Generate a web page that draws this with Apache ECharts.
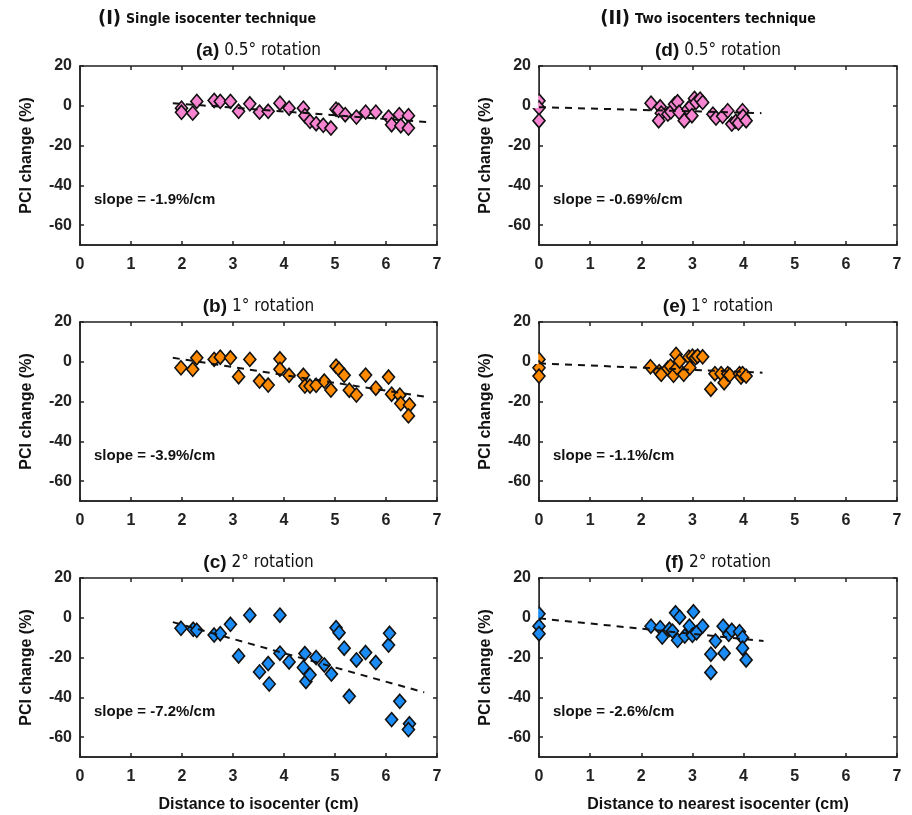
<!DOCTYPE html>
<html lang="en">
<head>
    <meta charset="utf-8">
    <title>PCI change</title>
    <script src="https://cdn.jsdelivr.net/npm/echarts@6/dist/echarts.min.js"></script>
</head>
<body style="margin:0;background:#fff">
    <div id="main" style="width: 912px;height:815px;"></div>
    <script>
    // data: [distance (cm), PCI change (%)]
    var ptsA = [[1.99,-1.2],[1.99,-3.3],[2.21,-3.7],[2.29,2.2],[2.63,2.7],[2.75,2.2],[2.95,2.2],[3.11,-2.8],[3.33,1],[3.52,-3.2],
        [3.69,-2.8],[3.92,1.3],[4.10,-1.2],[4.38,-1.2],[4.41,-5],[4.51,-7.8],[4.63,-9],[4.77,-9.8],[4.92,-11.2],[5.02,-1.7],
        [5.07,-2.3],[5.2,-4.5],[5.42,-5.7],[5.6,-3.2],[5.8,-3.2],[6.05,-5.7],[6.11,-9.5],[6.26,-4.5],[6.29,-10],[6.44,-5],[6.44,-11.2]];
    var ptsB = [[1.98,-3],[2.21,-3.8],[2.29,2],[2.63,1.2],[2.75,2.3],[2.95,2],[3.11,-7.5],[3.33,1.2],[3.52,-9.7],[3.69,-11.7],
        [3.92,1.5],[3.92,-3.8],[4.10,-6.8],[4.38,-6.8],[4.41,-12.2],[4.51,-12.2],[4.63,-11.8],[4.79,-9.7],[4.92,-14.2],[5.02,-2.2],
        [5.08,-3.8],[5.18,-6.8],[5.28,-14.3],[5.42,-16.7],[5.6,-6.7],[5.8,-13.3],[6.05,-7.7],[6.11,-16.3],[6.27,-16.8],[6.29,-21],
        [6.46,-21.7],[6.44,-27.2]];
    var ptsC = [[1.98,-5.3],[2.22,-5.8],[2.29,-6.3],[2.63,-8.7],[2.75,-8],[2.95,-3.3],[3.11,-19.2],[3.33,1.3],[3.52,-27.2],[3.69,-23],
        [3.71,-33.3],[3.92,1.3],[3.92,-17.8],[4.10,-22.2],[4.38,-25],[4.41,-18],[4.43,-32],[4.51,-28.7],[4.63,-20],[4.79,-23.7],
        [4.93,-28.3],[5.02,-5],[5.08,-7.5],[5.18,-15.3],[5.28,-39.5],[5.42,-21.2],[5.6,-17.5],[5.8,-22.5],[6.05,-13.7],[6.07,-7.8],
        [6.11,-51.2],[6.27,-42],[6.46,-53.3],[6.44,-56.2]];
    var ptsD = [[0,2.5],[0,-1],[0,-7.5],[2.19,1.3],[2.37,-0.5],[2.39,-3.7],[2.34,-7.5],[2.52,-4.2],[2.58,-3],[2.65,0.8],
        [2.71,2],[2.74,-3.3],[2.84,-7.5],[2.91,-1.7],[2.97,0],[3.04,3.7],[3.07,1.7],[3.15,3.3],[3.2,1.7],[2.99,-5],
        [3.40,-4.2],[3.46,-6.2],[3.59,-5.3],[3.69,-2.5],[3.77,-9.2],[3.85,-7.8],[3.9,-8.7],[3.98,-2.5],[3.99,-5.3],[4.05,-7.5]];
    var ptsE = [[0,1.2],[0,-3],[0,-7.2],[2.18,-2.5],[2.35,-5],[2.39,-6.3],[2.52,-3.3],[2.57,-2.2],[2.63,-6.8],[2.68,3.7],
        [2.7,-3],[2.75,0.3],[2.83,-6.3],[2.93,2.3],[2.95,-3],[3.0,2.8],[3.06,2],[3.1,2.8],[3.2,2.5],[3.36,-13.8],
        [3.44,-6],[3.56,-6],[3.62,-10.5],[3.69,-6],[3.73,-6.7],[3.92,-6],[3.95,-7.7],[3.98,-6],[4.05,-7.2]];
    var ptsF = [[0,2],[0,-4.2],[0,-8],[2.19,-4.2],[2.37,-5],[2.41,-9.7],[2.55,-5.8],[2.61,-6.7],[2.67,2.5],[2.75,0.3],
        [2.71,-11.3],[2.85,-9.2],[2.94,-4.2],[3.0,-8.8],[3.02,3],[3.08,-7.5],[3.2,-4.2],[3.36,-18.3],[3.36,-27.5],[3.45,-11.7],
        [3.6,-4.2],[3.62,-17.8],[3.71,-8.3],[3.77,-6.3],[3.92,-7],[3.98,-10],[3.98,-15.3],[4.05,-21.2]];

    // dashed regression lines, endpoints
    var fitA = [[1.82,1.3],[6.8,-8.2]];
    var fitB = [[1.82,2],[6.8,-17.7]];
    var fitC = [[1.82,-2.2],[6.75,-37.5]];
    var fitD = [[0,-0.7],[4.35,-3.7]];
    var fitE = [[0,-0.8],[4.37,-5.5]];
    var fitF = [[0,-0.3],[4.39,-11.7]];

    var letters = ['a', 'b', 'c', 'd', 'e', 'f'];
    var rotations = ['0.5° rotation', '1° rotation', '2° rotation', '0.5° rotation', '1° rotation', '2° rotation'];
    var slopes = ['slope = -1.9%/cm', 'slope = -3.9%/cm', 'slope = -7.2%/cm',
        'slope = -0.69%/cm', 'slope = -1.1%/cm', 'slope = -2.6%/cm'];
    var headers = ['(I)', 'Single isocenter technique', '(II)', 'Two isocenters technique'];
    var xNames = ['Distance to isocenter (cm)', 'Distance to nearest isocenter (cm)'];
    var yName = 'PCI change (%)';
    var yTicks = [-60, -40, -20, 0, 20];

    var allPts = [ptsA, ptsB, ptsC, ptsD, ptsE, ptsF];
    var allFits = [fitA, fitB, fitC, fitD, fitE, fitF];
    var colors = ['#f784d0', '#ff8a00', '#1b8cf5', '#f784d0', '#ff8a00', '#1b8cf5'];

    var colLeft = [80, 539];
    var colWidth = [357, 358];
    var rowTop = [66, 322, 578];
    var plotH = 179;
    var font = 'Liberation Sans, Arial, sans-serif';
    var narrow = 'DejaVu Sans Condensed, Liberation Sans, sans-serif';

    var myChart = echarts.init(document.getElementById('main'));

    var grids = [], xAxes = [], yAxes = [], series = [], titles = [], covers = [];
    var tickStyle = {show: true, inside: true, length: 4, lineStyle: {color: '#222', width: 1.5}};

    for (var i = 0; i < 6; i++) {
        var col = Math.floor(i / 3), row = i % 3;
        grids.push({
            left: colLeft[col], top: rowTop[row], width: colWidth[col], height: plotH,
            show: true, borderColor: '#222', borderWidth: 1.5, backgroundColor: '#fff'
        });
        // bottom x axis
        xAxes.push({
            gridIndex: i, type: 'value', min: 0, max: 7, interval: 1,
            name: row === 2 ? xNames[col] : '', nameLocation: 'middle', nameGap: 40,
            nameTextStyle: {fontFamily: font, fontWeight: 'bold', fontSize: 16, color: '#111'},
            axisLine: {show: true, onZero: false, lineStyle: {color: '#222', width: 1.5}},
            axisTick: tickStyle,
            axisLabel: {fontFamily: font, fontWeight: 'bold', fontSize: 16, color: '#222', margin: 12},
            splitLine: {show: false}
        });
        // top x axis, ticks only (box)
        xAxes.push({
            gridIndex: i, type: 'value', min: 0, max: 7, interval: 1, position: 'top',
            axisLine: {show: false, onZero: false},
            axisTick: tickStyle,
            axisLabel: {show: false}, splitLine: {show: false}
        });
        yAxes.push({
            gridIndex: i, type: 'value', min: -70, max: 20,
            name: yName, nameLocation: 'middle', nameGap: 45, nameRotate: 90,
            nameTextStyle: {fontFamily: font, fontWeight: 'bold', fontSize: 16, color: '#111'},
            axisLine: {show: true, onZero: false, lineStyle: {color: '#222', width: 1.5}},
            axisTick: {show: true, inside: true, length: 4, customValues: yTicks, lineStyle: {color: '#222', width: 1.5}},
            axisLabel: {fontFamily: font, fontWeight: 'bold', fontSize: 16, color: '#222', margin: 8, customValues: yTicks},
            splitLine: {show: false}
        });
        yAxes.push({
            gridIndex: i, type: 'value', min: -70, max: 20, position: 'right',
            axisLine: {show: false, onZero: false},
            axisTick: {show: true, inside: true, length: 4, customValues: yTicks, lineStyle: {color: '#222', width: 1.5}},
            axisLabel: {show: false}, splitLine: {show: false}
        });
        series.push({
            type: 'scatter', xAxisIndex: 2 * i, yAxisIndex: 2 * i,
            data: allPts[i], symbol: 'diamond', symbolSize: [12, 14],
            itemStyle: {color: colors[i], borderColor: '#111', borderWidth: 1.6, opacity: 1},
            clip: true, z: 2
        });
        series.push({
            type: 'line', xAxisIndex: 2 * i, yAxisIndex: 2 * i,
            data: allFits[i], symbol: 'none',
            lineStyle: {color: '#111', width: 2, type: [7, 6]},
            z: 3, silent: true
        });

        var cx = colLeft[col] + colWidth[col] / 2;
        titles.push({
            text: '{b|(' + letters[i] + ')} {n|' + rotations[i] + '}',
            left: cx, top: rowTop[row] - 25, textAlign: 'center', padding: 0,
            textStyle: {
                rich: {
                    b: {fontFamily: font, fontWeight: 'bold', fontSize: 19, color: '#111'},
                    n: {fontFamily: narrow, fontWeight: 'normal', fontSize: 17, color: '#111'}
                }
            }
        });
        titles.push({
            text: slopes[i],
            left: colLeft[col] + 14, top: rowTop[row] + 126, padding: 0,
            textStyle: {fontFamily: font, fontWeight: 'bold', fontSize: 15, color: '#111'}
        });
        // mask marker halves that stick out left of the right-column axes
        if (col === 1) {
            covers.push({
                type: 'rect', z: 100,
                shape: {x: colLeft[col] - 8, y: rowTop[row] + 2, width: 7.2, height: 40},
                style: {fill: '#fff'}
            });
        }
    }

    var headerRich = {
        p: {fontFamily: narrow, fontWeight: 'bold', fontSize: 20, color: '#111'},
        t: {fontFamily: narrow, fontWeight: 'bold', fontSize: 14, color: '#111'}
    };
    titles.push({
        text: '{p|' + headers[0] + '} {t|' + headers[1] + '}',
        left: 207, top: 9, textAlign: 'center', padding: 0,
        textStyle: {rich: headerRich}
    });
    titles.push({
        text: '{p|' + headers[2] + '} {t|' + headers[3] + '}',
        left: 708, top: 9, textAlign: 'center', padding: 0,
        textStyle: {rich: headerRich}
    });

    var option = {
        animation: false,
        backgroundColor: '#fff',
        title: titles,
        grid: grids,
        xAxis: xAxes,
        yAxis: yAxes,
        series: series,
        graphic: covers
    };
    myChart.setOption(option);
    </script>
</body>
</html>
